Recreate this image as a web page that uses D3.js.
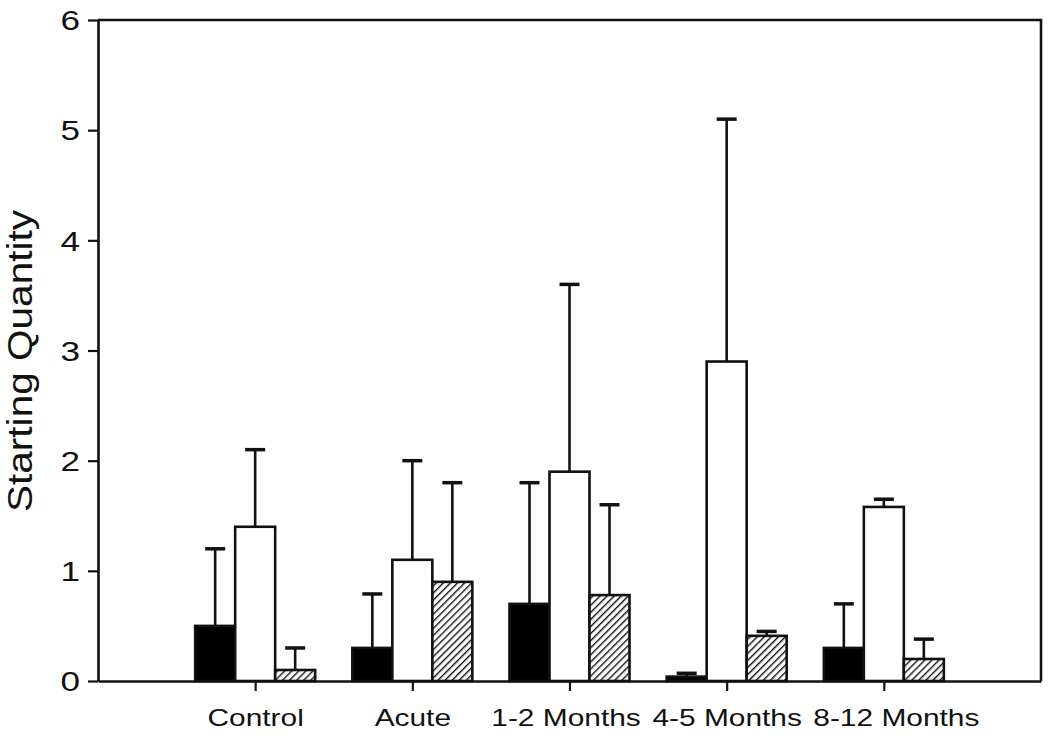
<!DOCTYPE html>
<html>
<head>
<meta charset="utf-8">
<script src="https://cdnjs.cloudflare.com/ajax/libs/d3/7.8.5/d3.min.js"></script>
<style>
  body { margin: 0; background: #fff; }
  text { font-family: "Liberation Sans", Arial, sans-serif; fill: #111; }
</style>
</head>
<body>
<div id="chart"></div>
<script>
// data
var categories = ["Control", "Acute", "1-2 Months", "4-5 Months", "8-12 Months"];
var seriesNames = ["black", "white", "hatched"];
var blackMean = [0.5, 0.3, 0.7, 0.04, 0.3];
var blackErr = [0.7, 0.49, 1.1, 0.03, 0.4];
var whiteMean = [1.4, 1.1, 1.9, 2.9, 1.58];
var whiteErr = [0.7, 0.9, 1.7, 2.2, 0.07];
var hatchMean = [0.1, 0.9, 0.78, 0.41, 0.2];
var hatchErr = [0.2, 0.9, 0.82, 0.04, 0.18];
var yTicks = [0, 1, 2, 3, 4, 5, 6];

var W = 1050, H = 738;
var mLeft = 98, mRight = 1041, mTop = 20, mBottom = 681;
var sx = 1.3; // picture is a bit wide, so text gets stretched too

var svg = d3.select("#chart").append("svg")
    .attr("width", W)
    .attr("height", H);

// hatch fill
var defs = svg.append("defs");
var pat = defs.append("pattern")
    .attr("id", "hatch")
    .attr("patternUnits", "userSpaceOnUse")
    .attr("width", 5)
    .attr("height", 5)
    .attr("patternTransform", "rotate(45)");
pat.append("rect").attr("width", 5).attr("height", 5).attr("fill", "#fff");
pat.append("line")
    .attr("x1", 0).attr("y1", 0)
    .attr("x2", 0).attr("y2", 5)
    .attr("stroke", "#111")
    .attr("stroke-width", 2.8);

var x0 = d3.scalePoint().domain(categories).range([mLeft, mRight]).padding(1);
var x1 = d3.scaleBand().domain(seriesNames).range([-60, 60]);
var y = d3.scaleLinear().domain([0, 6]).range([mBottom, mTop]);

var rows = [];
categories.forEach(function(c, i) {
    rows.push({cat: c, s: "black", v: blackMean[i], e: blackErr[i], fill: "#000"});
    rows.push({cat: c, s: "white", v: whiteMean[i], e: whiteErr[i], fill: "#fff"});
    rows.push({cat: c, s: "hatched", v: hatchMean[i], e: hatchErr[i], fill: "url(#hatch)"});
});

// error bars first, bars on top
var capW = 20;
var eb = svg.append("g").attr("stroke", "#111").attr("stroke-width", 2.6);
rows.forEach(function(d) {
    var cx = x0(d.cat) + x1(d.s) + x1.bandwidth() / 2;
    eb.append("line")
        .attr("x1", cx).attr("x2", cx)
        .attr("y1", y(d.v)).attr("y2", y(d.v + d.e));
    eb.append("line")
        .attr("x1", cx - capW / 2).attr("x2", cx + capW / 2)
        .attr("y1", y(d.v + d.e)).attr("y2", y(d.v + d.e))
        .attr("stroke-width", 3.5);
});

svg.append("g").selectAll("rect")
    .data(rows)
    .enter().append("rect")
    .attr("x", function(d) { return x0(d.cat) + x1(d.s); })
    .attr("y", function(d) { return y(d.v); })
    .attr("width", x1.bandwidth())
    .attr("height", function(d) { return y(0) - y(d.v); })
    .attr("fill", function(d) { return d.fill; })
    .attr("stroke", "#111")
    .attr("stroke-width", 2.6);

// frame (top and right)
svg.append("path")
    .attr("d", "M" + mLeft + "," + mTop + "H" + mRight + "V" + mBottom)
    .attr("fill", "none")
    .attr("stroke", "#111")
    .attr("stroke-width", 2.6);

// axes
var yAxis = svg.append("g")
    .attr("transform", "translate(" + mLeft + ",0)")
    .call(d3.axisLeft(y).tickValues(yTicks).tickFormat(d3.format("d")).tickSize(10).tickSizeOuter(0).tickPadding(8));
var xAxis = svg.append("g")
    .attr("transform", "translate(0," + mBottom + ")")
    .call(d3.axisBottom(x0).tickSize(10).tickSizeOuter(0).tickPadding(19));

[yAxis, xAxis].forEach(function(a) {
    a.select(".domain").attr("stroke", "#111").attr("stroke-width", 2.6);
    a.selectAll(".tick line").attr("stroke", "#111").attr("stroke-width", 2.2);
});

yAxis.selectAll(".tick text")
    .attr("font-size", 27)
    .attr("x", -18 / sx)
    .attr("dy", "0.36em")
    .attr("transform", "scale(" + sx + ",1)")
    .attr("fill", "#111");

xAxis.selectAll(".tick text")
    .attr("font-size", 23)
    .attr("transform", "scale(" + sx + ",1)")
    .attr("fill", "#111")
    // last label sits a little right of its tick in the original
    .attr("x", function(d, i) { return i === categories.length - 1 ? 12 / sx : (i === 2 ? -4 / sx : 0); });

// y title
svg.append("text")
    .attr("transform", "translate(32," + 361 + ") rotate(-90)")
    .attr("text-anchor", "middle")
    .attr("font-size", 35)
    .attr("textLength", 302)
    .attr("lengthAdjust", "spacingAndGlyphs")
    .text("Starting Quantity");
</script>
</body>
</html>
